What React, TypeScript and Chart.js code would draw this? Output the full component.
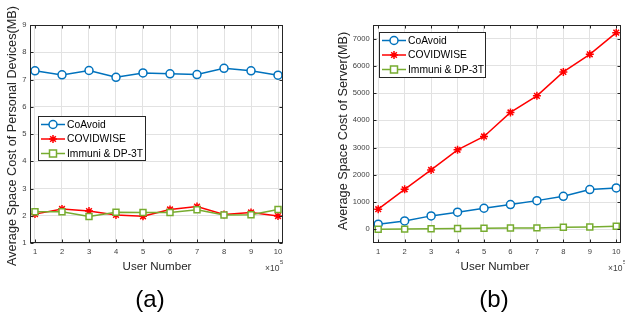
import React, { useEffect, useRef } from "react";
import { Chart, registerables } from "chart.js";

Chart.register(...registerables);

const userNumbers = [1, 2, 3, 4, 5, 6, 7, 8, 9, 10];
const seriesNames = ["CoAvoid", "COVIDWISE", "Immuni & DP-3T"];
const deviceCoAvoid = [7.32, 7.17, 7.33, 7.08, 7.24, 7.21, 7.18, 7.41, 7.32, 7.16];
const deviceCovidwise = [2.06, 2.25, 2.17, 2.03, 1.98, 2.23, 2.34, 2.05, 2.12, 1.99];
const deviceImmuni = [2.15, 2.15, 1.97, 2.13, 2.12, 2.12, 2.22, 2.03, 2.04, 2.23];
const serverCoAvoid = [190, 310, 495, 630, 775, 910, 1055, 1215, 1460, 1520];
const serverCovidwise = [740, 1470, 2180, 2920, 3410, 4290, 4900, 5777, 6425, 7220];
const serverImmuni = [5, 10, 20, 30, 40, 50, 55, 75, 90, 115];
const deviceTicks = [1, 2, 3, 4, 5, 6, 7, 8, 9];
const serverTicks = [0, 1000, 2000, 3000, 4000, 5000, 6000, 7000];

const COLORS = ["#0072BD", "#FF0000", "#77AC30"];
const STYLES = ["circle", "star", "rect"];
const FONT = "'Liberation Sans', Arial, Helvetica, sans-serif";
const AXIS = "#262626";

function drawMarker(ctx: CanvasRenderingContext2D, style: string, x: number, y: number, color: string) {
  ctx.save();
  ctx.strokeStyle = color;
  ctx.lineWidth = 1.5;
  ctx.fillStyle = "#ffffff";
  ctx.beginPath();
  if (style === "circle") {
    ctx.arc(x, y, 4, 0, Math.PI * 2);
    ctx.fill();
    ctx.stroke();
  } else if (style === "rect") {
    ctx.rect(x - 3.5, y - 3.5, 7, 7);
    ctx.fill();
    ctx.stroke();
  } else {
    const r = 4;
    const d = r * Math.SQRT1_2;
    ctx.moveTo(x - r, y); ctx.lineTo(x + r, y);
    ctx.moveTo(x, y - r); ctx.lineTo(x, y + r);
    ctx.moveTo(x - d, y - d); ctx.lineTo(x + d, y + d);
    ctx.moveTo(x - d, y + d); ctx.lineTo(x + d, y - d);
    ctx.stroke();
  }
  ctx.restore();
}

const matlabPlugin = {
  id: "matlab",
  afterDraw(chart: any, _args: any, opts: any) {
    const ctx: CanvasRenderingContext2D = chart.ctx;
    const { left, right, top, bottom } = chart.chartArea;
    const xs = chart.scales.x;
    const ys = chart.scales.y;
    ctx.save();
    // frame
    ctx.strokeStyle = AXIS;
    ctx.lineWidth = 1;
    const L = Math.round(left) + 0.5, R = Math.round(right) - 0.5;
    const T = Math.round(top) + 0.5, B = Math.round(bottom) - 0.5;
    ctx.strokeRect(L, T, R - L, B - T);
    // inward ticks
    ctx.beginPath();
    xs.ticks.forEach((t: any) => {
      const px = Math.round(xs.getPixelForValue(t.value)) + 0.5;
      ctx.moveTo(px, B); ctx.lineTo(px, B - 3);
      ctx.moveTo(px, T); ctx.lineTo(px, T + 3);
    });
    ys.ticks.forEach((t: any) => {
      const py = Math.round(ys.getPixelForValue(t.value)) + 0.5;
      ctx.moveTo(L, py); ctx.lineTo(L + 3, py);
      ctx.moveTo(R, py); ctx.lineTo(R - 3, py);
    });
    ctx.stroke();

    // legend
    const lb = opts.legend;
    ctx.fillStyle = "#ffffff";
    ctx.fillRect(lb.x, lb.y, lb.w, lb.h);
    ctx.strokeStyle = AXIS;
    ctx.strokeRect(lb.x + 0.5, lb.y + 0.5, lb.w, lb.h);
    seriesNames.forEach((name, i) => {
      const ry = lb.y + 8.5 + i * 14.5;
      ctx.strokeStyle = COLORS[i];
      ctx.lineWidth = 1.5;
      ctx.beginPath();
      ctx.moveTo(lb.x + 3, ry);
      ctx.lineTo(lb.x + 27, ry);
      ctx.stroke();
      drawMarker(ctx, STYLES[i], lb.x + 15, ry, COLORS[i]);
      ctx.fillStyle = "#000000";
      ctx.font = `10.3px ${FONT}`;
      ctx.textAlign = "left";
      ctx.textBaseline = "middle";
      ctx.fillText(name, lb.x + 29, ry + 0.5);
    });

    // y title
    ctx.fillStyle = AXIS;
    ctx.save();
    ctx.translate(opts.yTitle.x, opts.yTitle.y);
    ctx.rotate(-Math.PI / 2);
    ctx.font = `12.7px ${FONT}`;
    ctx.textAlign = "center";
    ctx.textBaseline = "middle";
    ctx.fillText(opts.yTitle.text, 0, 0);
    ctx.restore();

    // x title
    ctx.font = `11.6px ${FONT}`;
    ctx.textAlign = "center";
    ctx.textBaseline = "middle";
    ctx.fillText(opts.xTitle.text, opts.xTitle.x, opts.xTitle.y);

    // exponent
    ctx.fillStyle = "#404040";
    ctx.textAlign = "left";
    ctx.font = `8.5px ${FONT}`;
    ctx.fillText("\u00d710", opts.exp.x, opts.exp.y);
    const w = ctx.measureText("\u00d710").width;
    ctx.font = `5.8px ${FONT}`;
    ctx.fillText("5", opts.exp.x + w + 0.5, opts.exp.y - 6);

    // panel label
    ctx.fillStyle = "#000000";
    ctx.textAlign = "center";
    ctx.font = `24px ${FONT}`;
    ctx.fillText(opts.panel.text, opts.panel.x, opts.panel.y);
    ctx.restore();
  },
};

type PanelProps = {
  width: number;
  left: number;
  series: number[][];
  yMin: number;
  yMax: number;
  yTicks: number[];
  yAxisWidth: number;
  padRight: number;
  matlab: any;
};

function Panel(p: PanelProps) {
  const ref = useRef<HTMLCanvasElement>(null);
  useEffect(() => {
    if (!ref.current) return;
    const orders = [2, 1, 0];
    const chart = new Chart(ref.current, {
      type: "line",
      data: {
        datasets: p.series.map((vals, i) => ({
          label: seriesNames[i],
          data: userNumbers.map((x, j) => ({ x, y: vals[j] })),
          borderColor: COLORS[i],
          backgroundColor: COLORS[i],
          borderWidth: 1.5,
          pointStyle: STYLES[i] as any,
          pointRadius: STYLES[i] === "rect" ? 4.2 : 4,
          pointBorderWidth: 1.5,
          pointBorderColor: COLORS[i],
          pointBackgroundColor: "#ffffff",
          tension: 0,
          order: orders[i],
        })),
      },
      options: {
        responsive: false,
        animation: false,
        events: [],
        layout: { padding: { top: 25, right: p.padRight, bottom: 0, left: 0 }, autoPadding: false } as any,
        plugins: {
          legend: { display: false },
          tooltip: { enabled: false },
          matlab: p.matlab,
        } as any,
        scales: {
          x: {
            type: "linear",
            min: 0.815,
            max: 10.185,
            afterBuildTicks: (s: any) => {
              s.ticks = userNumbers.map((v) => ({ value: v }));
            },
            afterFit: (s: any) => {
              s.height = 77;
            },
            grid: { color: "#e2e2e2", drawTicks: false, lineWidth: 1 },
            border: { display: false },
            ticks: {
              padding: 4.5,
              color: "#404040",
              font: { family: FONT, size: 7.6 },
              maxRotation: 0,
              autoSkip: false,
              callback: (v: any) => String(v),
            },
          },
          y: {
            type: "linear",
            min: p.yMin,
            max: p.yMax,
            afterBuildTicks: (s: any) => {
              s.ticks = p.yTicks.map((v) => ({ value: v }));
            },
            afterFit: (s: any) => {
              s.width = p.yAxisWidth;
            },
            grid: { color: "#e2e2e2", drawTicks: false, lineWidth: 1 },
            border: { display: false },
            ticks: {
              padding: 3.6,
              color: "#404040",
              font: { family: FONT, size: 7.6 },
              autoSkip: false,
              callback: (v: any) => String(v),
            },
          },
        },
      },
      plugins: [matlabPlugin as any],
    });
    return () => chart.destroy();
  }, []);
  return (
    <canvas
      ref={ref}
      width={p.width}
      height={320}
      style={{ position: "absolute", left: p.left, top: 0, width: p.width, height: 320 }}
    />
  );
}

export default function App() {
  return (
    <div style={{ position: "fixed", left: 0, top: 0, width: 625, height: 320, background: "#ffffff", overflow: "hidden" }}>
      <Panel
        width={310}
        left={0}
        series={[deviceCoAvoid, deviceCovidwise, deviceImmuni]}
        yMin={1}
        yMax={9}
        yTicks={deviceTicks}
        yAxisWidth={30}
        padRight={27}
        matlab={{
          legend: { x: 38, y: 116, w: 107, h: 44 },
          yTitle: { text: "Average Space Cost of Personal Devices(MB)", x: 12, y: 136 },
          xTitle: { text: "User Number", x: 157, y: 267 },
          exp: { x: 265, y: 268.5 },
          panel: { text: "(a)", x: 150, y: 300 },
        }}
      />
      <Panel
        width={315}
        left={310}
        series={[serverCoAvoid, serverCovidwise, serverImmuni]}
        yMin={-500}
        yMax={7500}
        yTicks={serverTicks}
        yAxisWidth={63.3}
        padRight={1}
        matlab={{
          legend: { x: 69, y: 32, w: 106, h: 45 },
          yTitle: { text: "Average Space Cost of Server(MB)", x: 33, y: 131 },
          xTitle: { text: "User Number", x: 185, y: 267 },
          exp: { x: 298, y: 268.5 },
          panel: { text: "(b)", x: 184, y: 300 },
        }}
      />
    </div>
  );
}
